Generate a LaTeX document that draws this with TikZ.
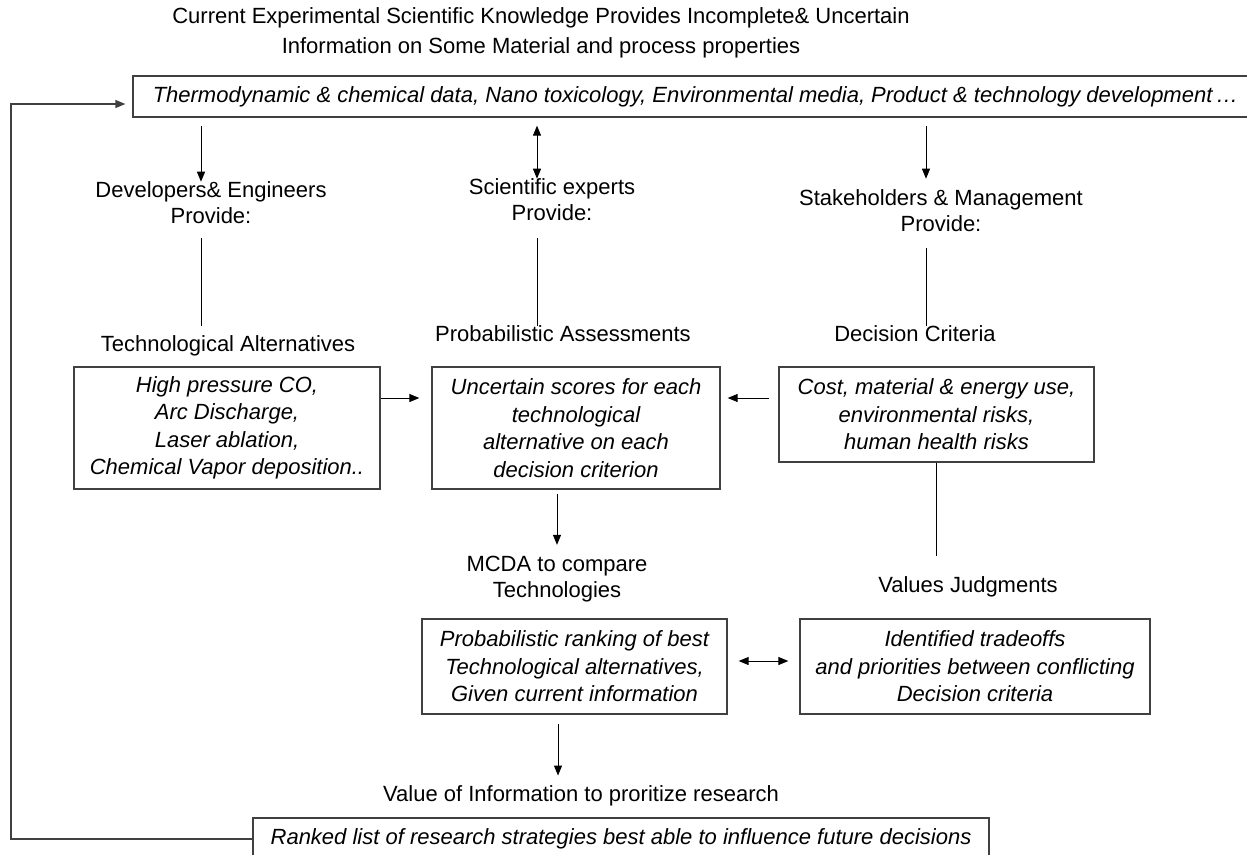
\documentclass[tikz,border=0pt]{standalone}
\usepackage{fontspec}
\setmainfont{Liberation Sans}
\usetikzlibrary{positioning, arrows.meta, calc}

\tikzset{
  box/.style={draw=black!75, line width=1.3pt, align=center, font=\fontsize{22}{27.5}\selectfont\itshape},
  lbl/.style={align=center, inner sep=0pt, font=\fontsize{22}{26}\selectfont},
  arr/.style={-{Triangle[length=10pt,width=8pt]}, line width=1pt},
  dblarr/.style={{Triangle[length=10pt,width=8pt]}-{Triangle[length=10pt,width=8pt]}, line width=1pt}
}

\begin{document}
\begin{tikzpicture}[x=1pt, y=-1pt]
\useasboundingbox (0,0) rectangle (1247,854);

\node[lbl, font=\fontsize{22}{30}\selectfont] (title) at (541,33){Current Experimental Scientific Knowledge Provides Incomplete\& Uncertain\\Information on Some Material and process properties};
\node[box, minimum width=1125pt, minimum height=41pt] (data) at (695.5,96.5){Thermodynamic \& chemical data, Nano toxicology, Environmental media, Product \& technology development\,…};

\node[lbl] (devlbl) at (211,203){Developers\& Engineers\\Provide:};
\node[lbl] (scilbl) at (552,200){Scientific experts\\Provide:};
\node[lbl] (stklbl) at (941,211){Stakeholders \& Management\\Provide:};

\node[lbl] (techlbl) at (228,346){Technological Alternatives};
\node[lbl] (problbl) at (563,334){Probabilistic Assessments};
\node[lbl] (critlbl) at (915,334){Decision Criteria};

\node[box, minimum width=306pt, minimum height=122pt] (alt) at (227,428){High pressure CO,\\Arc Discharge,\\Laser ablation,\\Chemical Vapor deposition..};
\node[box, minimum width=288pt, minimum height=122pt] (scores) at (576,428){Uncertain scores for each\\technological\\alternative on each\\decision criterion};
\node[box, minimum width=315pt, minimum height=95pt] (crit) at (936.5,414.5){Cost, material \& energy use,\\environmental risks,\\human health risks};

\node[lbl] (mcdalbl) at (557,579){MCDA to compare\\Technologies};
\node[lbl] (vallbl) at (968,587){Values Judgments};

\node[box, minimum width=305pt, minimum height=95pt] (rank) at (574.5,666.5){Probabilistic ranking of best\\Technological alternatives,\\Given current information};
\node[box, minimum width=350pt, minimum height=95pt] (trade) at (975,666.5){Identified tradeoffs\\and priorities between conflicting\\Decision criteria};

\node[lbl] (voilbl) at (581,796){Value of Information to proritize research};
\node[box, minimum width=736pt, minimum height=42pt] (list) at (621,839){Ranked list of research strategies best able to influence future decisions};

\draw[arr] ($(data.south -| devlbl.north)+(-10,8)$) -- ($(devlbl.north)+(-10,0)$);
\draw[dblarr] ($(data.south -| scilbl.north)+(-15,8)$) -- ($(scilbl.north)+(-15,0)$);
\draw[arr] ($(data.south -| stklbl.north)+(-15,8)$) -- ($(stklbl.north)+(-15,-11)$);

\draw[line width=1pt] ($(devlbl.south)+(-10,14)$) -- ($(devlbl.south |- techlbl.north)+(-10,-10)$);
\draw[line width=1pt] ($(scilbl.south)+(-15,17)$) -- ($(scilbl.south |- problbl.north)+(-15,0)$);
\draw[line width=1pt] ($(stklbl.south)+(-15,16)$) -- ($(stklbl.south |- critlbl.north)+(-15,0)$);

\draw[arr, shorten >=12pt] ($(alt.east)+(0,-30)$) -- ($(scores.west)+(0,-30)$);
\draw[arr, shorten <=9pt, shorten >=7pt] ($(crit.west)+(0,-16.5)$) -- ($(scores.east)+(0,-30)$);
\draw[arr, shorten <=4pt] (scores.south -| mcdalbl.north) -- ($(mcdalbl.north)+(0,-11)$);
\draw[line width=1pt] (crit.south) -- ($(crit.south |- vallbl.north)+(0,-21)$);

\draw[dblarr, shorten <=11pt, shorten >=11pt] ($(rank.east)+(0,-5.5)$) -- ($(trade.west)+(0,-5.5)$);
\draw[arr] ($(rank.south)+(-16.5,9)$) -- ($(rank.south |- voilbl.north)+(-16.5,-10)$);

\coordinate (loop) at (11,400);
\draw[arr, draw=black!75, line width=1.3pt, shorten >=7pt] (list.west) -| (loop) |- ($(data.west)+(0,7.5)$);
\end{tikzpicture}
\end{document}
